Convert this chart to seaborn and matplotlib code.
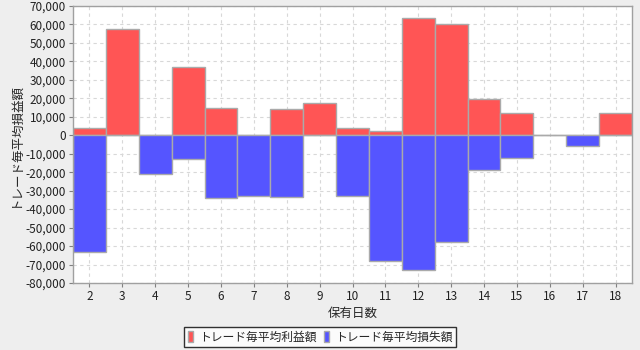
import matplotlib
matplotlib.use("Agg")
import matplotlib.pyplot as plt
import matplotlib.ticker as mticker
from matplotlib.patches import Patch
import seaborn as sns
import pandas as pd

days = [2, 3, 4, 5, 6, 7, 8, 9, 10, 11, 12, 13, 14, 15, 16, 17, 18]
profit = [3900, 57700, 0, 36900, 14700, 0, 14200, 17700, 3900, 2100, 63400, 60100, 19600, 12300, 0, 0, 12300]
loss = [-63100, 0, -20800, -12900, -34000, -32900, -33400, 0, -32900, -68000, -72900, -57700, -18800, -12300, 0, -5700, 0]
series_names = ["トレード毎平均利益額", "トレード毎平均損失額"]
colors = ["#FF5555", "#5555FF"]
x_label = "保有日数"
y_label = "トレード毎平均損益額"

df = pd.DataFrame({
    "day": [str(d) for d in days] * 2,
    "value": profit + loss,
    "series": [series_names[0]] * len(days) + [series_names[1]] * len(days),
})

sns.set_style("white")
plt.rcParams["font.family"] = ["Noto Sans CJK JP", "DejaVu Sans"]

fig = plt.figure(figsize=(6.4, 3.5), dpi=100, facecolor="#EEEEEE")
ax = fig.add_axes([73 / 640, 1 - 283 / 350, (632 - 73) / 640, (283 - 6) / 350])
ax.set_facecolor("white")

sns.barplot(data=df, x="day", y="value", hue="series", dodge=False, width=1.0,
            palette=colors, saturation=1, edgecolor="#AAAAAA", linewidth=1.0, ax=ax,
            legend=False, order=[str(d) for d in days], hue_order=series_names)

ax.set_ylim(-80000, 70000)
ax.set_xlim(-0.5, len(days) - 0.5)
ax.yaxis.set_major_locator(mticker.MultipleLocator(10000))
ax.yaxis.set_major_formatter(mticker.FuncFormatter(lambda v, p: f"{int(v):,}"))
ax.grid(True, linestyle=(0, (3, 3)), color="#D8D8D8", linewidth=0.8)
ax.set_axisbelow(True)
for s in ["top", "right", "left", "bottom"]:
    ax.spines[s].set_color("#A0A0A0")
    ax.spines[s].set_linewidth(1.0)
ax.tick_params(axis="both", which="major", labelsize=8.5, length=3, color="#808080",
               labelcolor="#222222", pad=2, left=True, bottom=True)
ax.set_xlabel(x_label, fontsize=9, labelpad=3)
ax.set_ylabel(y_label, fontsize=9, labelpad=3)

handles = [Patch(facecolor=c, edgecolor="#AAAAAA") for c in colors]
leg = fig.legend(handles, series_names, loc="center", bbox_to_anchor=(0.5, 1 - 337 / 350),
                 ncol=2, fontsize=8.5, frameon=True, fancybox=False, edgecolor="black",
                 handlelength=0.45, handleheight=1.0, handletextpad=0.5, columnspacing=0.6,
                 borderpad=0.3)
leg.get_frame().set_linewidth(1.0)
leg.get_frame().set_facecolor("white")

fig.savefig("out.png", dpi=100, facecolor=fig.get_facecolor())
